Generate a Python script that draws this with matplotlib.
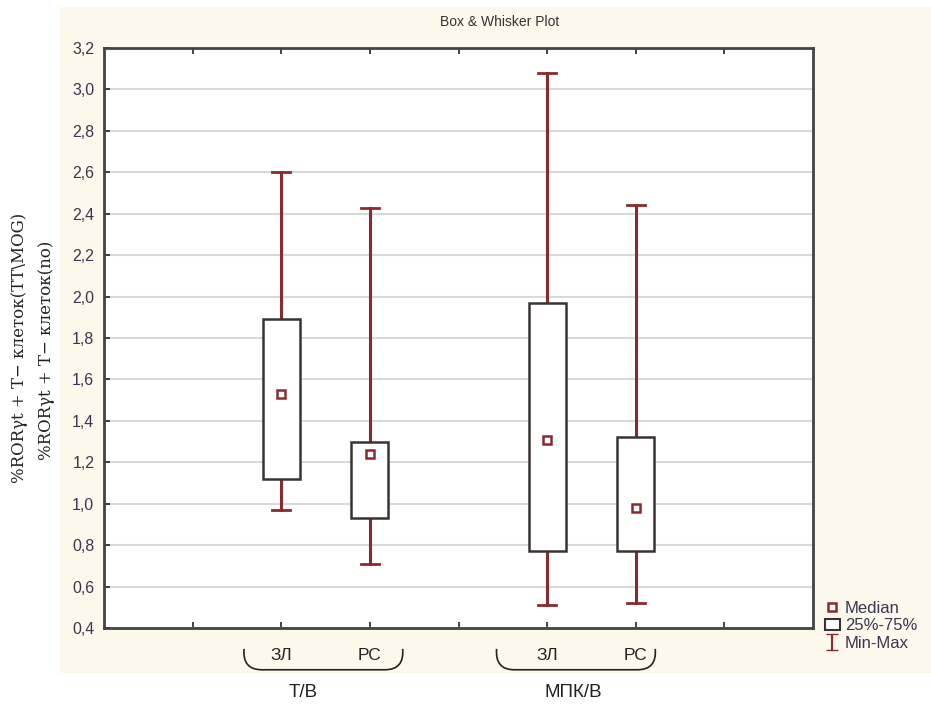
import matplotlib
matplotlib.use('Agg')
import matplotlib.pyplot as plt
from matplotlib.patches import Rectangle, Patch
from matplotlib.lines import Line2D
from matplotlib.path import Path
from matplotlib.patches import PathPatch
import matplotlib.transforms as mtransforms
from matplotlib.ticker import FuncFormatter

plt.rcParams['font.family'] = ['Liberation Sans', 'DejaVu Sans']

# Dados
groups = ['Т/В', 'МПК/В']
subgroups = ['ЗЛ', 'РС', 'ЗЛ', 'РС']
positions = [2, 3, 5, 6]
mins = [0.97, 0.71, 0.51, 0.52]
q1 = [1.12, 0.93, 0.77, 0.77]
medians = [1.53, 1.24, 1.31, 0.98]
q3 = [1.89, 1.30, 1.97, 1.32]
maxs = [2.60, 2.43, 3.08, 2.44]
yticks = [0.4, 0.6, 0.8, 1.0, 1.2, 1.4, 1.6, 1.8, 2.0, 2.2, 2.4, 2.6, 2.8, 3.0, 3.2]

WHISKER = '#8b2a2e'
BOXEDGE = '#3a3334'
BEIGE = '#fdf8ec'

fig = plt.figure(figsize=(9.31, 7.04), dpi=100)
fig.patch.set_facecolor('white')
# painel bege (estilo Statistica)
fig.patches.append(Rectangle((60 / 931, 1 - 673 / 704), 1 - 60 / 931, (673 - 7) / 704,
                             transform=fig.transFigure, facecolor=BEIGE, edgecolor='none', zorder=-10))

ax = fig.add_axes([104 / 931, 1 - 628 / 704, (813 - 104) / 931, (628 - 48) / 704])
ax.set_facecolor('white')

for i, x in enumerate(positions):
    # bigodes min-max
    ax.plot([x, x], [mins[i], q1[i]], color=WHISKER, lw=2.2, zorder=2)
    ax.plot([x, x], [q3[i], maxs[i]], color=WHISKER, lw=2.2, zorder=2)
    ax.plot([x - 0.1, x + 0.1], [mins[i], mins[i]], color=WHISKER, lw=2, zorder=2)
    ax.plot([x - 0.1, x + 0.1], [maxs[i], maxs[i]], color=WHISKER, lw=2, zorder=2)
    # caixa 25%-75%
    ax.add_patch(Rectangle((x - 0.21, q1[i]), 0.42, q3[i] - q1[i], facecolor='white',
                           edgecolor=BOXEDGE, lw=1.8, zorder=3))
    # mediana
    ax.plot([x], [medians[i]], marker='s', ms=6, mfc='white', mec=WHISKER, mew=1.8, zorder=4)

ax.set_xlim(0, 8)
ax.set_ylim(0.4, 3.2)
ax.set_yticks(yticks)
ax.yaxis.set_major_formatter(FuncFormatter(lambda v, p: f'{v:.1f}'.replace('.', ',')))
ax.set_xticks(range(1, 8))
ax.set_xticklabels([])
ax.tick_params(axis='both', direction='in', length=4, width=1.2, color='#222222',
               top=True, labelsize=11.5, labelcolor='#3a3550')
ax.tick_params(axis='y', pad=7)
ax.grid(axis='y', color='#d9d9d9', lw=1.5, zorder=0)
ax.set_axisbelow(True)
for s in ax.spines.values():
    s.set_linewidth(2)
    s.set_color('#444444')

# título
fig.text(500 / 931, 1 - 22 / 704, 'Box & Whisker Plot', ha='center', va='center',
         fontsize=10, color='#333333')

# rótulos do eixo y
fig.text(20 / 931, 1 - 348 / 704, '%RORγt + T− клеток(TT\\MOG)', rotation=90,
         ha='center', va='center', fontsize=12, family='DejaVu Serif', color='#222222')
fig.text(47 / 931, 1 - 350 / 704, '%RORγt + T− клеток(no)', rotation=90,
         ha='center', va='center', fontsize=12, family='DejaVu Serif', color='#222222')

# rótulos das categorias e chaves
trans = mtransforms.blended_transform_factory(ax.transData, ax.transAxes)
for i, x in enumerate(positions):
    ax.text(x, -0.047, subgroups[i], transform=trans, ha='center', va='center',
            fontsize=12.5, color='#222222', clip_on=False)
group_x = [2.25, 5.29]
braces = [(1.58, 3.37), (4.43, 6.22)]
for g, gx, (a, b) in zip(groups, group_x, braces):
    ax.text(gx, -0.112, g, transform=trans, ha='center', va='center',
            fontsize=13.5, color='#222222', clip_on=False)
    top, bot = -0.036, -0.072
    verts = [(a, top), (a - 0.02, bot), (a + 0.2, bot), (b - 0.2, bot),
             (b + 0.02, bot), (b, top)]
    codes = [Path.MOVETO, Path.CURVE3, Path.CURVE3, Path.LINETO, Path.CURVE3, Path.CURVE3]
    ax.add_patch(PathPatch(Path(verts, codes), transform=trans, facecolor='none',
                           edgecolor='#222222', lw=1.2, clip_on=False))

# legenda
eb = ax.errorbar([-10], [1], yerr=[0.5], fmt='none', ecolor=WHISKER, capsize=4, elinewidth=1.5)
handles = [Line2D([], [], ls='none', marker='s', ms=6, mfc='white', mec=WHISKER, mew=1.8),
           Patch(facecolor='white', edgecolor=BOXEDGE, lw=1.5),
           eb]
leg = fig.legend(handles, ['Median', '25%-75%', 'Min-Max'], loc='upper left',
                 bbox_to_anchor=(818 / 931, 1 - 594 / 704), frameon=False, fontsize=12,
                 handlelength=0.9, handletextpad=0.3, labelspacing=0.15, borderaxespad=0)
for t in leg.get_texts():
    t.set_color('#3a3550')

plt.savefig('out.png', dpi=100, facecolor=fig.get_facecolor())
